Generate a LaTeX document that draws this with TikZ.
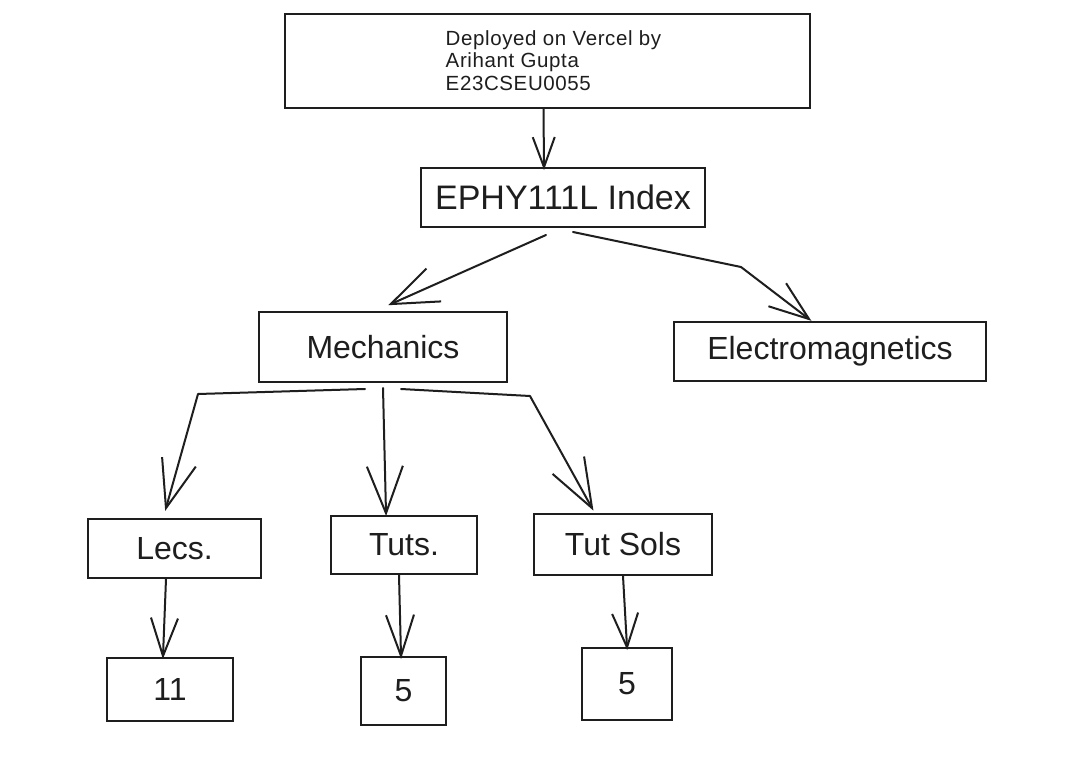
\documentclass[tikz,border=0pt]{standalone}
\usepackage{fontspec}
\setmainfont{Liberation Sans}
\newfontfamily\spacedsans[LetterSpace=3]{Liberation Sans}
\usetikzlibrary{arrows.meta,calc}
\definecolor{ink}{HTML}{1E1E1E}
\begin{document}
\begin{tikzpicture}[x=1pt,y=-1pt,
  box/.style={draw=ink,line width=2pt,rectangle,inner sep=0pt,text=ink,
    font=\fontsize{32}{38}\selectfont},
  conn/.style 2 args={draw=ink,line width=2pt,line cap=round,line join=round,
    shorten >=-3pt,
    -{Straight Barb[length=#1pt,width=#2pt,line width=2pt]}}]
\fill[white] (0,0) rectangle (1066,760);
\useasboundingbox (0,0) rectangle (1066,760);

\node[box,minimum width=525pt,minimum height=94pt,text height=48pt,text depth=33pt,
  font=\spacedsans\fontsize{20.5}{22.5}\selectfont] (top) at (547.5,61)
  {\hspace*{12pt}\begin{tabular}{@{}l@{}}Deployed on Vercel by\\Arihant Gupta\\E23CSEU0055\end{tabular}};
\node[box,minimum width=284pt,minimum height=59pt,
  font=\fontsize{34}{40}\selectfont] (index) at (563,197.5) {EPHY111L Index};
\node[box,minimum width=248pt,minimum height=70pt] (mech) at (383,347) {Mechanics};
\node[box,minimum width=312pt,minimum height=59pt] (elec) at (830,351.5) {Electromagnetics};
\node[box,minimum width=173pt,minimum height=59pt] (lecs) at (174.5,548.5) {Lecs.};
\node[box,minimum width=146pt,minimum height=58pt] (tuts) at (404,545) {Tuts.};
\node[box,minimum width=178pt,minimum height=61pt] (tutsols) at (623,544.5) {Tut Sols};
\node[box,minimum width=126pt,minimum height=63pt] (n11) at (170,689.5) {11};
\node[box,minimum width=85pt,minimum height=68pt] (n5a) at (403.5,691) {5};
\node[box,minimum width=90pt,minimum height=72pt] (n5b) at (627,684) {5};

\coordinate (b1) at (741,267);
\coordinate (b2) at (198,394);
\coordinate (b3) at (530,396);

\draw[conn={30}{22}] ($(top.south)+(-4,0)$) -- ($(index.north)+(-19,0)$);
\draw[conn={47}{36}] ($(index.south)+(-17,7)$) -- ($(mech.north)+(8,-7)$);
\draw[conn={40}{29}] ($(index.south)+(10,4)$) -- (b1) -- ($(elec.north)+(-21,-2)$);
\draw[conn={48}{35}] ($(mech.south)+(-18,6)$) -- (b2) -- ($(lecs.north)+(-8.5,-10)$);
\draw[conn={47}{36}] ($(mech.south)+(0,5)$) -- ($(tuts.north)+(-18,-2)$);
\draw[conn={49}{36}] ($(mech.south)+(18,6)$) -- (b3) -- ($(tutsols.north)+(-31,-5)$);
\draw[conn={38}{27}] ($(lecs.south)+(-8.5,0)$) -- ($(n11.north)+(-7,-1)$);
\draw[conn={41}{28}] ($(tuts.south)+(-5,0)$) -- ($(n5a.north)+(-2.5,0)$);
\draw[conn={34}{26}] (tutsols.south) -- (n5b.north);
\end{tikzpicture}
\end{document}
